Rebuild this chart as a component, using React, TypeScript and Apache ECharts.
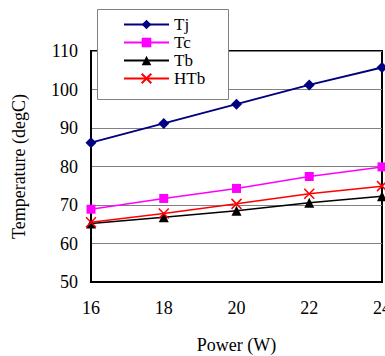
import React, { useEffect, useRef } from "react";
import * as echarts from "echarts";

const powers = [16, 18, 20, 22, 24];
const tj = [86.2, 91.2, 96.2, 101.2, 105.7];
const tc = [68.9, 71.7, 74.3, 77.4, 79.9];
const tb = [65.2, 66.8, 68.5, 70.6, 72.3];
const htb = [65.5, 67.8, 70.3, 72.9, 74.9];

const FONT = "Liberation Serif";

export default function App() {
  const ref = useRef<HTMLDivElement>(null);
  useEffect(() => {
    if (!ref.current) return;
    const chart = echarts.init(ref.current, null, { renderer: "svg" });
    const pairs = (ys: number[]) => powers.map((p, i) => [p, ys[i]]);
    chart.setOption({
      animation: false,
      backgroundColor: "#ffffff",
      textStyle: { fontFamily: FONT },
      grid: {
        left: 91,
        top: 51,
        right: 3,
        bottom: 74,
        show: true,
        borderColor: "#000",
        borderWidth: 2,
        containLabel: false,
        outerBoundsMode: "none",
      },
      graphic: [
        {
          type: "rect",
          z: 10,
          shape: { x: 97.5, y: 9.5, width: 131, height: 90 },
          style: { fill: "#ffffff", stroke: "#808080", lineWidth: 1 },
        },
      ],
      legend: {
        z: 20,
        orient: "vertical",
        left: 97,
        top: 9,
        padding: [7, 20, 13, 26],
        itemWidth: 45,
        itemHeight: 12,
        itemGap: 1,
        textStyle: { fontFamily: FONT, fontSize: 17, color: "#000" },
        data: ["Tj", "Tc", "Tb", "HTb"],
      },
      xAxis: {
        type: "value",
        min: 16,
        max: 24,
        interval: 2,
        name: "Power (W)",
        nameLocation: "middle",
        nameGap: 54,
        nameTextStyle: { fontFamily: FONT, fontSize: 18, color: "#000" },
        axisLine: { show: true, lineStyle: { color: "#000", width: 2 } },
        axisTick: { show: false },
        axisLabel: { fontFamily: FONT, fontSize: 18, color: "#000", margin: 17 },
        splitLine: { show: false },
      },
      yAxis: {
        type: "value",
        min: 50,
        max: 110,
        interval: 10,
        name: "Temperature (degC)",
        nameLocation: "middle",
        nameGap: 63,
        nameTextStyle: { fontFamily: FONT, fontSize: 18, color: "#000" },
        axisLine: { show: true, lineStyle: { color: "#000", width: 2 } },
        axisTick: { show: false },
        axisLabel: { fontFamily: FONT, fontSize: 18, color: "#000", margin: 13 },
        splitLine: { show: true, lineStyle: { color: "#808080", width: 1 } },
      },
      series: [
        {
          name: "Tj",
          type: "line",
          data: pairs(tj),
          symbol: "diamond",
          symbolSize: 11,
          color: "#000080",
          lineStyle: { color: "#000080", width: 2 },
          itemStyle: { color: "#000080" },
        },
        {
          name: "Tc",
          type: "line",
          data: pairs(tc),
          symbol: "rect",
          symbolSize: 9,
          color: "#ff00ff",
          lineStyle: { color: "#ff00ff", width: 1.5 },
          itemStyle: { color: "#ff00ff" },
        },
        {
          name: "Tb",
          type: "line",
          data: pairs(tb),
          symbol: "triangle",
          symbolSize: 10,
          color: "#000000",
          lineStyle: { color: "#000000", width: 1.5 },
          itemStyle: { color: "#000000" },
        },
        {
          name: "HTb",
          type: "line",
          data: pairs(htb),
          symbol: "path://M0,0L10,10M10,0L0,10",
          symbolSize: 10,
          color: "#ff0000",
          lineStyle: { color: "#ff0000", width: 1.5 },
          itemStyle: { color: "#ff0000", borderColor: "#ff0000", borderWidth: 1.5 },
        },
      ],
    });
    return () => chart.dispose();
  }, []);
  return (
    <div
      ref={ref}
      style={{ position: "fixed", left: 0, top: 0, width: 385, height: 356 }}
    />
  );
}
